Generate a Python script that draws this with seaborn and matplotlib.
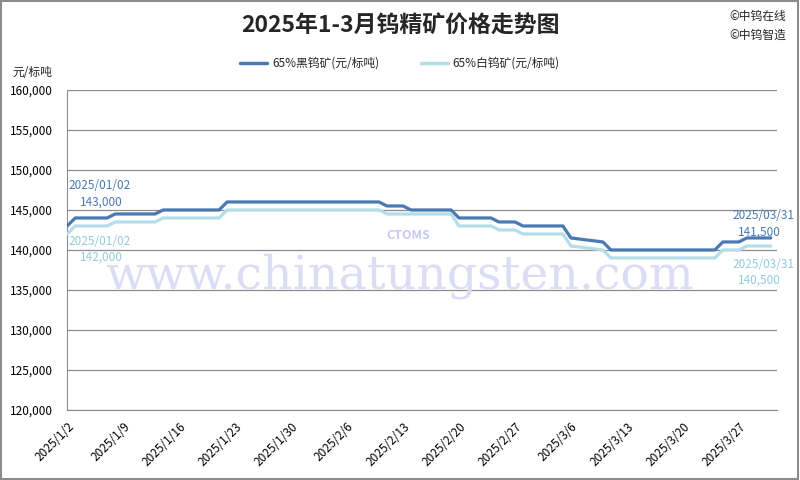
import pandas as pd
import matplotlib.pyplot as plt
from matplotlib.patches import Rectangle
from matplotlib.lines import Line2D
import seaborn as sns

# 数据：价格变动点（元/标吨）
dates = ["2025-01-02", "2025-01-03", "2025-01-07", "2025-01-08", "2025-01-13", "2025-01-14",
         "2025-01-21", "2025-01-22", "2025-02-10", "2025-02-11", "2025-02-13", "2025-02-14",
         "2025-02-19", "2025-02-20", "2025-02-24", "2025-02-25", "2025-02-27", "2025-02-28",
         "2025-03-05", "2025-03-06", "2025-03-10", "2025-03-11", "2025-03-24", "2025-03-25",
         "2025-03-27", "2025-03-28", "2025-03-31"]
wolframite = [143000, 144000, 144000, 144500, 144500, 145000,
              145000, 146000, 146000, 145500, 145500, 145000,
              145000, 144000, 144000, 143500, 143500, 143000,
              143000, 141500, 141000, 140000, 140000, 141000,
              141000, 141500, 141500]
scheelite = [142000, 143000, 143000, 143500, 143500, 144000,
             144000, 145000, 145000, 144500, 144500, 144500,
             144500, 143000, 143000, 142500, 142500, 142000,
             142000, 140500, 140000, 139000, 139000, 140000,
             140000, 140500, 140500]
series_names = ["65%黑钨矿(元/标吨)", "65%白钨矿(元/标吨)"]
tick_dates = ["2025-01-02", "2025-01-09", "2025-01-16", "2025-01-23", "2025-01-30", "2025-02-06",
              "2025-02-13", "2025-02-20", "2025-02-27", "2025-03-06", "2025-03-13", "2025-03-20",
              "2025-03-27"]
y_ticks = list(range(120000, 160001, 5000))

dark = "#4a78b4"
light = "#b4dde8"
dark_txt = "#4a78b4"
light_txt = "#92cddc"

sns.set_style("white")
plt.rcParams['font.family'] = ['Noto Sans CJK SC', 'DejaVu Sans']

df = pd.DataFrame({
    "date": pd.to_datetime(dates * 2),
    "price": wolframite + scheelite,
    "kind": [series_names[0]] * len(dates) + [series_names[1]] * len(dates),
})

fig = plt.figure(figsize=(8, 4.8), dpi=100)
ax = fig.add_axes([0.084, 0.146, 0.887, 0.6665])

sns.lineplot(data=df, x="date", y="price", hue="kind", palette=[dark, light],
             linewidth=2.3, ax=ax, legend=False, zorder=3)

# 水印
fig.text(0.5, 0.425, "www.chinatungsten.com", fontsize=34, color="#dcdcf4",
         family="DejaVu Serif", ha="center", va="center", zorder=0)
fig.text(0.51, 0.51, "CTOMS", fontsize=9, color="#c8c8f0", fontweight="bold",
         style="italic", ha="center", va="center", zorder=0)

ax.set_ylim(120000, 160000)
ax.set_yticks(y_ticks)
ax.yaxis.set_major_formatter(plt.FuncFormatter(lambda v, p: f"{int(v):,}"))
ax.set_xlim(pd.Timestamp("2025-01-02"), pd.Timestamp("2025-03-31 18:00"))
ticks = pd.to_datetime(tick_dates)
ax.set_xticks(ticks)
ax.set_xticklabels([f"{d.year}/{d.month}/{d.day}" for d in ticks], rotation=45,
                   ha="right", rotation_mode="anchor")
ax.set_xlabel("")
ax.set_ylabel("")
ax.grid(axis="y", color="#8c8c8c", linewidth=0.9)
ax.set_axisbelow(True)
for s in ["top", "right"]:
    ax.spines[s].set_visible(False)
for s in ["left", "bottom"]:
    ax.spines[s].set_color("#8c8c8c")
ax.tick_params(axis="both", direction="out", length=4, color="#8c8c8c", labelsize=8.5,
               labelcolor="black")
ax.tick_params(axis="y", pad=6)

# 首尾数值标注
labels = [
    ("2025/01/02", 0.002, 0.70, dark_txt), ("143,000", 0.018, 0.65, dark_txt),
    ("2025/01/02", 0.002, 0.528, light_txt), ("142,000", 0.018, 0.478, light_txt),
    ("2025/03/31", 0.937, 0.609, dark_txt), ("141,500", 0.945, 0.556, dark_txt),
    ("2025/03/31", 0.937, 0.456, light_txt), ("140,500", 0.945, 0.406, light_txt),
]
for txt, x, y, c in labels:
    ax.text(x, y, txt, transform=ax.transAxes, color=c, fontsize=8.5, va="center", zorder=4)

# 标题与图例
fig.text(0.5, 0.946, "2025年1-3月钨精矿价格走势图", fontsize=16.5, fontweight="bold",
         ha="center", va="center")
fig.text(0.912, 0.965, "©中钨在线", fontsize=8.5, va="center")
fig.text(0.912, 0.927, "©中钨智造", fontsize=8.5, va="center")
fig.text(0.015, 0.848, "元/标吨", fontsize=8.5, va="center")
handles = [Line2D([], [], color=dark, lw=2.5), Line2D([], [], color=light, lw=2.5)]
fig.legend(handles, series_names, loc="center", bbox_to_anchor=(0.5, 0.868), ncol=2,
           frameon=False, fontsize=8.5, handlelength=2.3, columnspacing=3.5, handletextpad=0.4)

fig.add_artist(Rectangle((0.001, 0.002), 0.997, 0.996, transform=fig.transFigure,
                         fill=False, edgecolor="#8c8c8c", linewidth=1.5))

fig.savefig("out.png", dpi=100)
